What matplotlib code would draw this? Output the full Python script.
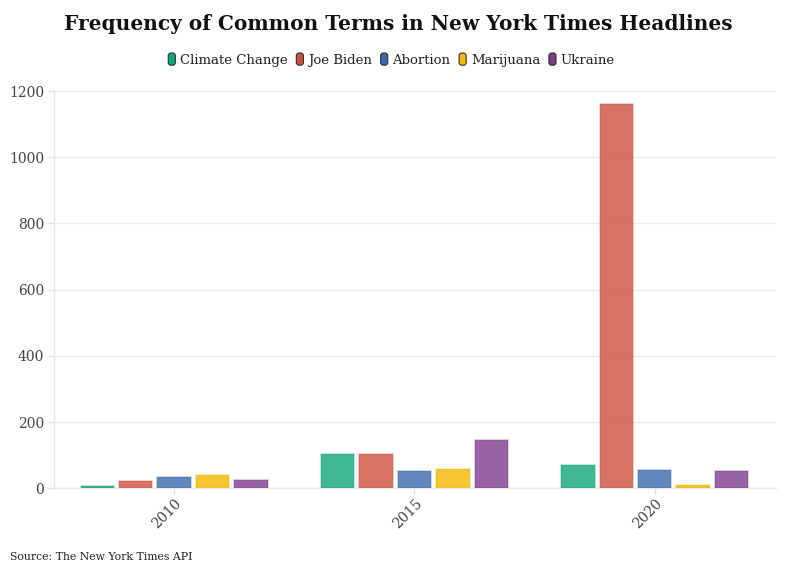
#!/usr/bin/env python3
"""
Plot the frequency of common terms in New York Times headlines
for a few sample years, as a grouped bar chart.
"""

import matplotlib
matplotlib.use("Agg")
import matplotlib.pyplot as plt
import matplotlib.colors as mcolors
import matplotlib.transforms as mtransforms
from matplotlib.patches import Patch, FancyBboxPatch
from matplotlib.legend_handler import HandlerPatch
import numpy as np

# Data
years = ["2010", "2015", "2020"]
terms = ["Climate Change", "Joe Biden", "Abortion", "Marijuana", "Ukraine"]
climate_change = [7, 104, 71]
joe_biden = [21, 103, 1161]
abortion = [33, 52, 55]
marijuana = [40, 59, 11]
ukraine = [25, 146, 53]
series = [climate_change, joe_biden, abortion, marijuana, ukraine]

colors = ["#11A579", "#CD4F3D", "#3969AC", "#F2B701", "#7F3C8D"]
y_ticks = [0, 200, 400, 600, 800, 1000, 1200]


class RoundedHandler(HandlerPatch):
    """Legend handle drawn as a small rounded box."""
    def create_artists(self, legend, orig_handle, xdescent, ydescent,
                       width, height, fontsize, trans):
        box = FancyBboxPatch((-xdescent + 1, -ydescent), width - 2, height,
                             boxstyle="round,pad=0,rounding_size=2",
                             facecolor=orig_handle.get_facecolor(),
                             edgecolor="#333333", linewidth=0.8,
                             transform=trans)
        return [box]


def plot_terms(output_file="out.png"):
    plt.rcParams["font.family"] = ["DejaVu Serif"]

    fig = plt.figure(figsize=(7.96, 5.75), dpi=100)
    ax = fig.add_axes([0.0678, 0.1508, 0.975 - 0.0678, 0.8417 - 0.1508])

    x = np.arange(len(years))
    pitch = 0.16
    width = 0.139

    for i, (values, color) in enumerate(zip(series, colors)):
        offset = (i - 2) * pitch
        ax.bar(x + offset, values, width,
               facecolor=mcolors.to_rgba(color, 0.8),
               edgecolor=mcolors.to_rgba(color, 0.3),
               linewidth=1.2, zorder=3)

    ax.set_xlim(-0.5, 2.505)
    ax.set_ylim(0, 1200)
    ax.set_yticks(y_ticks)
    ax.set_yticklabels([str(t) for t in y_ticks])
    ax.set_xticks(x)
    ax.set_xticklabels(years, rotation=45, ha="center", va="center",
                       rotation_mode="anchor")

    # Light grid, light axis lines
    ax.grid(axis="y", color="#ebebeb", linewidth=0.8, zorder=0)
    for side in ["top", "right"]:
        ax.spines[side].set_visible(False)
    for side in ["left", "bottom"]:
        ax.spines[side].set_color("#e6e6e6")
        ax.spines[side].set_linewidth(1.0)

    ax.tick_params(axis="y", colors="#e0e0e0", labelcolor="#444444",
                   labelsize=10, length=4, width=1, pad=3)
    ax.tick_params(axis="x", colors="#e0e0e0", labelcolor="#444444",
                   labelsize=10, length=4.5, width=1, pad=14)

    # Nudge rotated year labels a little to the left, like the original
    shift = mtransforms.ScaledTranslation(-7 / 100, 0, fig.dpi_scale_trans)
    for lbl in ax.get_xticklabels():
        lbl.set_transform(lbl.get_transform() + shift)

    # Title
    fig.text(0.5, 0.958, "Frequency of Common Terms in New York Times Headlines",
             ha="center", va="center", fontsize=14.5, fontweight="bold",
             color="#111111")

    # Legend on top
    handles = [Patch(facecolor=c) for c in colors]
    fig.legend(handles, terms, loc="center", bbox_to_anchor=(0.491, 0.896),
               ncol=5, frameon=False, fontsize=9.5, handlelength=0.75,
               handleheight=1.05, handletextpad=0.25, columnspacing=0.55,
               labelcolor="#222222",
               handler_map={Patch: RoundedHandler()})

    # Source note
    fig.text(0.013, 0.031, "Source: The New York Times API", ha="left",
             va="center", fontsize=7.8, color="#222222")

    fig.savefig(output_file, dpi=100)
    print(f"Plot saved to {output_file}")


def main():
    plot_terms("out.png")


if __name__ == "__main__":
    main()
